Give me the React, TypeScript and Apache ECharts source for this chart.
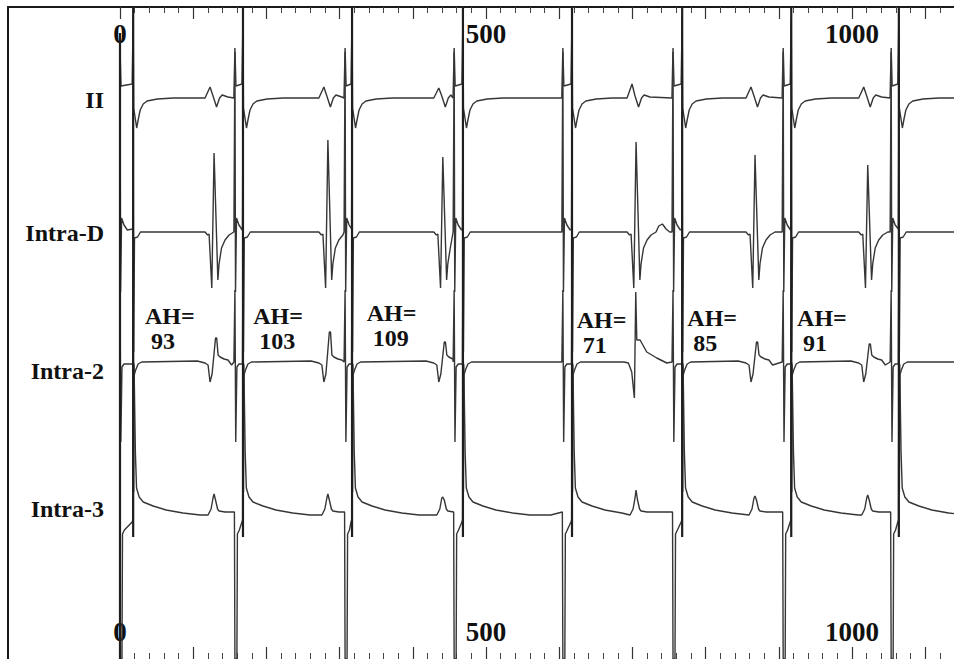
import { useEffect, useRef } from 'react';
import * as echarts from 'echarts';

// ---------------- data ----------------
const channelNames = ['II', 'Intra-D', 'Intra-2', 'Intra-3'];
// zero level of each trace (vertical units, 1 unit = 1 px above the bottom edge)
const channelBaselines = [561, 427, 297, 147];
const channelLabelY = [100, 233, 371, 509];

// times (ms) of the first pacing artifact, the second (large) artifact and the conducted complex
const pacingA = [0, 157, 307.5, 456.5, 605, 755.5, 906, 1053.5];
const pacingS = [18, 168, 317, 468.5, 617.5, 768, 917, 1064];
const eventTimes: (number | null)[] = [128.5, 284, 441, null, 705, 867.5, 1021.5, null];

// per-cycle amplitudes of the conducted complex
const iiWaveAmp = [11, 11, 10, null, 14, 11, 11, null];
const intraDPeaks = [79, 92, 75, null, 90, 77, 67, null];
const intra2Peaks = [24, 30, 20, null, 70, 20, 18, null];
const intra2Wide = [false, false, false, false, true, false, false, false];
const intra3Bumps = [18, 18, 15, null, 22, 16, 17, null];
const intraDExtra: [number, number][] = [[736, 6], [741, 8], [746, 3], [751, 0]];

// AH annotations
const ahValues = [93, 103, 109, 71, 85, 91];
const ahTimes = [34, 182, 337, 624, 775, 925];
const ahLevels = [356, 356, 359, 352, 354, 354];

// axis labels
const tickLabelValues = [0, 500, 1000];

// large stimulus artifacts
const stimTop = 652;
const stimBottom = 122;
const originMark: [number, number][] = [[0, 626], [0, 0]];

// waveform shapes: [ms offset, amplitude]
const iiA: [number, any][] = [[-1.5, 0], [0, 50], [1.4, 12]];
const iiS: [number, any][] = [[-1.4, 14], [0, 80], [0.7, -10], [4.8, -30], [6.8, -22], [9.6, -12], [13.7, -6], [19, -3], [33, -1], [55, 0]];
const iiEvent: [number, any][] = [[-12.3, 0], [-5.5, 'peak'], [-1.4, 2], [3.4, -9], [7.5, 0], [11, 3], [19, 1]];

const intraDA: [number, any][] = [[-1.4, 0], [0, 180], [0.8, -60], [2.2, 14], [5.5, 7], [10, 2]];
const intraDS: [number, any][] = [[-0.7, 3], [0, 120], [0.7, -120], [1.8, -6], [6, -5], [10, 0]];
const intraDEvent: [number, any][] = [[-12.3, 0], [-8.9, -3], [-6.8, -2], [-3.1, -56], [0, 'peak'], [5.2, -48], [6.8, -32], [10.2, -16], [15, -8], [20.5, -3], [27.3, 0]];

const intra2A: [number, any][] = [[-1.4, 0], [0, 72], [1.1, -80], [2.7, -5], [5.5, -2]];
const intra2S: [number, any][] = [[-0.7, -2], [0, 100], [0.7, -130], [1.4, -13], [3.4, -8], [6.8, -2], [11.6, 0]];
const intra2Event: [number, any][] = [[-23, 1], [-12.3, -1], [-8.2, -3], [-5.5, -20], [-2.7, -12], [2, 'peak'], [3.6, 'peak'], [5.5, 7], [8.2, 5], [13.7, 3], [19, 2], [24, -3]];
const intra2EventWide: [number, any][] = [[-16.4, 0], [-10.5, -1], [-5.9, -10], [-2.3, -36], [-0.4, 'peak'], [1, 22], [5.5, 22], [14.6, 10], [28.3, 4], [42, -1]];

const intra3A: [number, any][] = [[-0.7, 0], [0, -147], [2.7, -147], [3.4, -22], [6, -18]];
const intra3S: [number, any][] = [[-1.4, -10], [-0.5, -8], [0, 150], [1.2, 147], [3, 60], [4.6, 24], [8.2, 15], [13.7, 10], [27.3, 6], [45, 2], [68, -1], [91.5, -3], [120, -3]];
const intra3Event: [number, any][] = [[-8.2, -3], [-4.1, 3], [-1.4, 14], [0, 'peak'], [2, 12], [4.8, 3], [6.8, 1], [15, 0]];

// ---------------- building ----------------
type Ch = {
  a: [number, any][];
  s: [number, any][];
  ev: (i: number) => [number, any][];
  peaks: (number | null)[];
  extra: [number, number][];
};

const channels: Ch[] = [
  { a: iiA, s: iiS, ev: () => iiEvent, peaks: iiWaveAmp, extra: [] },
  { a: intraDA, s: intraDS, ev: () => intraDEvent, peaks: intraDPeaks, extra: intraDExtra },
  { a: intra2A, s: intra2S, ev: (i) => (intra2Wide[i] ? intra2EventWide : intra2Event), peaks: intra2Peaks, extra: [] },
  { a: intra3A, s: intra3S, ev: () => intra3Event, peaks: intra3Bumps, extra: [] },
];

function place(tpl: [number, any][], t0: number, peak: number, lo: number, hi: number, out: [number, number][]) {
  for (const [dt, v] of tpl) {
    const t = t0 + dt;
    if (t > lo && t < hi) out.push([t, v === 'peak' ? peak : v]);
  }
}

function buildTrace(ch: Ch, base: number) {
  const pts: [number, number][] = [];
  for (let i = 0; i < pacingA.length; i++) {
    const A = pacingA[i];
    const S = pacingS[i];
    const E = eventTimes[i];
    const nextA = i + 1 < pacingA.length ? pacingA[i + 1] + ch.a[0][0] : Infinity;
    const sStart = S + ch.s[0][0];
    place(ch.a, A, 0, -Infinity, sStart - 0.05, pts);
    const ev = E != null ? ch.ev(i) : null;
    const evStart = ev && E != null ? E + ev[0][0] : nextA;
    place(ch.s, S, 0, sStart - 0.05, evStart - 0.3, pts);
    if (ev && E != null) place(ev, E, (ch.peaks[i] as number) || 0, evStart - 0.05, nextA - 0.3, pts);
  }
  pts.push(...ch.extra);
  pts.sort((p, q) => p[0] - q[0]);
  const last = pts[pts.length - 1];
  pts.push([1200, last[1]]);
  return pts.map(([t, v]) => [t, base + v]);
}

const serif = '"Liberation Serif", "Times New Roman", serif';

export default function App() {
  const ref = useRef<HTMLDivElement>(null);
  useEffect(() => {
    if (!ref.current) return;
    const chart = echarts.init(ref.current, undefined, { renderer: 'svg' });

    const stimData: any[] = [];
    pacingS.forEach((s) => {
      stimData.push([s, stimTop], [s, stimBottom], [s, '-']);
    });
    originMark.forEach((p) => stimData.push(p));

    const tickAxis = (position: 'top' | 'bottom') => ({
      type: 'value',
      gridIndex: 1,
      position,
      min: 0,
      max: 1200,
      interval: 100,
      axisLine: { show: false, onZero: false },
      axisTick: { show: true, inside: true, length: 12, lineStyle: { color: '#333', width: 1.2 } },
      minorTick: { show: true, splitNumber: 5, length: 6, lineStyle: { color: '#444', width: 1 } },
      splitLine: { show: false },
      minorSplitLine: { show: false },
      axisLabel: {
        inside: true,
        margin: position === 'top' ? 13 : 14,
        formatter: (v: number) => (tickLabelValues.includes(v) ? String(v) : ''),
        fontFamily: serif,
        fontWeight: 'bold',
        fontSize: 27,
        color: '#111',
      },
    });

    const channelLabels = channelNames.map((name, k) => ({
      type: 'text',
      x: 104,
      y: channelLabelY[k],
      silent: true,
      style: {
        text: name,
        font: `bold 24px ${serif}`,
        fill: '#111',
        align: 'right',
        verticalAlign: 'middle',
      },
    }));

    chart.setOption({
      animation: false,
      backgroundColor: '#ffffff',
      textStyle: { fontFamily: serif },
      grid: [
        { left: 8, top: 7, right: -50, bottom: -10, containLabel: false, outerBoundsMode: 'none' },
        { left: 120, top: 7, right: -44.4, bottom: 0, containLabel: false, outerBoundsMode: 'none' },
      ],
      xAxis: [
        {
          type: 'value', gridIndex: 0, position: 'top', min: 0, max: 1,
          axisLine: { show: true, onZero: false, lineStyle: { color: '#1a1a1a', width: 2 } },
          axisTick: { show: false }, axisLabel: { show: false }, splitLine: { show: false },
        },
        tickAxis('top'),
        tickAxis('bottom'),
      ],
      yAxis: [
        {
          type: 'value', gridIndex: 0, position: 'left', min: 0, max: 1,
          axisLine: { show: true, onZero: false, lineStyle: { color: '#1a1a1a', width: 2 } },
          axisTick: { show: false }, axisLabel: { show: false }, splitLine: { show: false },
        },
        {
          type: 'value', gridIndex: 1, min: 0, max: 652, show: false,
          axisLine: { show: false, onZero: false }, splitLine: { show: false },
        },
      ],
      graphic: channelLabels,
      series: [
        ...channels.map((ch, k) => ({
          type: 'line',
          name: channelNames[k],
          xAxisIndex: 1,
          yAxisIndex: 1,
          data: buildTrace(ch, channelBaselines[k]),
          showSymbol: false,
          symbol: 'none',
          clip: false,
          silent: true,
          lineStyle: { color: '#363636', width: 1.4 },
        })),
        {
          type: 'line',
          name: 'stim',
          xAxisIndex: 1,
          yAxisIndex: 1,
          data: stimData,
          showSymbol: false,
          symbol: 'none',
          clip: false,
          silent: true,
          connectNulls: false,
          lineStyle: { color: '#1e1e1e', width: 2.2 },
        },
      ],
    });

    // AH annotations placed through the chart's own coordinate conversion
    const ahLabels = ahValues.map((v, i) => {
      const p = chart.convertToPixel({ xAxisIndex: 1, yAxisIndex: 1 } as any, [ahTimes[i], ahLevels[i]]) as number[];
      return {
        type: 'text',
        x: p[0],
        y: p[1],
        silent: true,
        style: {
          text: `AH=\n ${v}`,
          font: `bold 24px ${serif}`,
          lineHeight: 25,
          fill: '#111',
          align: 'left',
          verticalAlign: 'top',
        },
      };
    });
    chart.setOption({ graphic: [...channelLabels, ...ahLabels] });

    return () => chart.dispose();
  }, []);
  return (
    <div
      ref={ref}
      style={{ position: 'fixed', left: 0, top: 0, width: 954, height: 659, background: '#fff' }}
    />
  );
}
